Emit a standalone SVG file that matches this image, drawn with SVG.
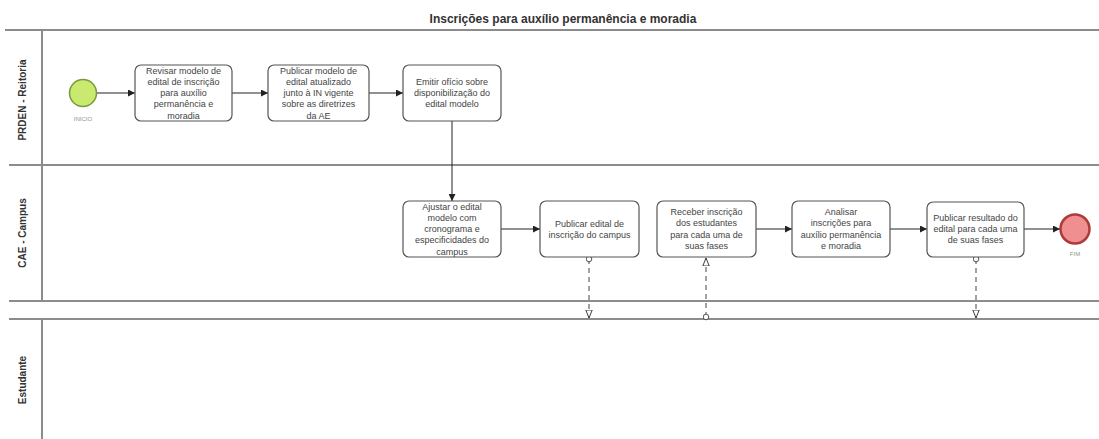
<svg xmlns="http://www.w3.org/2000/svg" width="1099" height="439" viewBox="0 0 1099 439">
<defs>
<marker id="arr" viewBox="0 0 10 10" refX="10" refY="5" markerWidth="7" markerHeight="7" orient="auto-start-reverse" markerUnits="userSpaceOnUse"><path d="M0,0 L10,5 L0,10 z" fill="#222"/></marker>
<marker id="marr" viewBox="0 0 10 10" refX="10" refY="5" markerWidth="8" markerHeight="8" orient="auto" markerUnits="userSpaceOnUse"><path d="M0,1 L10,5 L0,9 z" fill="#fff" stroke="#333" stroke-width="1.2"/></marker>
<marker id="mcirc" viewBox="0 0 10 10" refX="5" refY="5" markerWidth="7" markerHeight="7" orient="auto" markerUnits="userSpaceOnUse"><circle cx="5" cy="5" r="4" fill="#fff" stroke="#333" stroke-width="1.2"/></marker>
</defs>
<style>
.pool{stroke:#8c8c8c;stroke-width:2;fill:none}
.task rect{fill:#fff;stroke:#555;stroke-width:1.2}
.task text{font-family:"Liberation Sans",Arial,sans-serif;font-size:9px;fill:#444;text-anchor:middle}
.lane{font-family:"Liberation Sans",Arial,sans-serif;font-size:10px;font-weight:bold;fill:#333;text-anchor:middle}
.seq{stroke:#222;stroke-width:1;fill:none;marker-end:url(#arr)}
.msg{stroke:#444;stroke-width:1;fill:none;stroke-dasharray:5,4;marker-start:url(#mcirc);marker-end:url(#marr)}
.evl{font-family:"Liberation Sans",Arial,sans-serif;font-size:6px;fill:#8a9a80;text-anchor:middle}
</style>
<rect width="1099" height="439" fill="#fff"/>
<text x="563" y="23" font-family="Liberation Sans, Arial, sans-serif" font-size="12" font-weight="bold" fill="#333" text-anchor="middle">Inscrições para auxílio permanência e moradia</text>
<g id="pools">
<line class="pool" x1="5" y1="30" x2="1099" y2="30"/>
<line class="pool" x1="9" y1="165" x2="1099" y2="165"/>
<line class="pool" x1="9" y1="301" x2="1099" y2="301"/>
<line class="pool" x1="9" y1="319" x2="1099" y2="319"/>
<line class="pool" x1="42" y1="30" x2="42" y2="301"/>
<line class="pool" x1="42" y1="319" x2="42" y2="439"/>
<text class="lane" transform="translate(26,100) rotate(-90)">PRDEN - Reitoria</text>
<text class="lane" transform="translate(26,233) rotate(-90)">CAE - Campus</text>
<text class="lane" transform="translate(26,380) rotate(-90)">Estudante</text>
</g>
<g id="connectors">
<line class="seq" x1="97" y1="93" x2="135" y2="93"/>
<line class="seq" x1="232" y1="93" x2="268" y2="93"/>
<line class="seq" x1="369" y1="93" x2="403" y2="93"/>
<line class="seq" x1="452" y1="121" x2="452" y2="201"/>
<line class="seq" x1="501" y1="229" x2="540" y2="229"/>
<line class="seq" x1="756" y1="229" x2="792" y2="229"/>
<line class="seq" x1="890" y1="229" x2="927" y2="229"/>
<line class="seq" x1="1024" y1="229" x2="1060" y2="229"/>
<line class="msg" x1="589" y1="259" x2="589" y2="318"/>
<line class="msg" x1="706" y1="317" x2="706" y2="258"/>
<line class="msg" x1="976" y1="259" x2="976" y2="318"/>
</g>
<g id="start">
<circle cx="83" cy="93" r="13.5" fill="#c9ea6f" stroke="#7a9a3a" stroke-width="1.5"/>
<text class="evl" x="83" y="121">INICIO</text>
</g>
<g id="t1" class="task">
<rect x="135" y="65" width="97" height="56" rx="6"/>
<text x="183.5" y="73.5">Revisar modelo de</text><text x="183.5" y="84.8">edital de inscrição</text><text x="183.5" y="96.1">para auxílio</text><text x="183.5" y="107.4">permanência e</text><text x="183.5" y="118.7">moradia</text>
</g>
<g id="t2" class="task">
<rect x="268" y="65" width="101" height="56" rx="6"/>
<text x="318.5" y="73.5">Publicar modelo de</text><text x="318.5" y="84.8">edital atualizado</text><text x="318.5" y="96.1">junto à IN vigente</text><text x="318.5" y="107.4">sobre as diretrizes</text><text x="318.5" y="118.7">da AE</text>
</g>
<g id="t3" class="task">
<rect x="403" y="65" width="98" height="56" rx="6"/>
<text x="452" y="84.8">Emitir ofício sobre</text><text x="452" y="96.1">disponibilização do</text><text x="452" y="107.4">edital modelo</text>
</g>
<g id="t4" class="task">
<rect x="403" y="201" width="98" height="56" rx="6"/>
<text x="452" y="209.5">Ajustar o edital</text><text x="452" y="220.8">modelo com</text><text x="452" y="232.1">cronograma e</text><text x="452" y="243.4">especificidades do</text><text x="452" y="254.7">campus</text>
</g>
<g id="t5" class="task">
<rect x="540" y="201" width="99" height="56" rx="6"/>
<text x="589.5" y="226.5">Publicar edital de</text><text x="589.5" y="237.8">inscrição do campus</text>
</g>
<g id="t6" class="task">
<rect x="657" y="201" width="99" height="56" rx="6"/>
<text x="706.5" y="215">Receber inscrição</text><text x="706.5" y="226.3">dos estudantes</text><text x="706.5" y="237.6">para cada uma de</text><text x="706.5" y="248.9">suas fases</text>
</g>
<g id="t7" class="task">
<rect x="792" y="201" width="98" height="56" rx="6"/>
<text x="841" y="215">Analisar</text><text x="841" y="226.3">inscrições para</text><text x="841" y="237.6">auxílio permanência</text><text x="841" y="248.9">e moradia</text>
</g>
<g id="t8" class="task">
<rect x="927" y="202" width="97" height="55" rx="6"/>
<text x="975.5" y="220.8">Publicar resultado do</text><text x="975.5" y="232.1">edital para cada uma</text><text x="975.5" y="243.4">de suas fases</text>
</g>
<g id="end">
<circle cx="1075" cy="229" r="14.5" fill="#ef8f8f" stroke="#b03a3a" stroke-width="2.5"/>
<text class="evl" x="1075" y="256">FIM</text>
</g>
</svg>
